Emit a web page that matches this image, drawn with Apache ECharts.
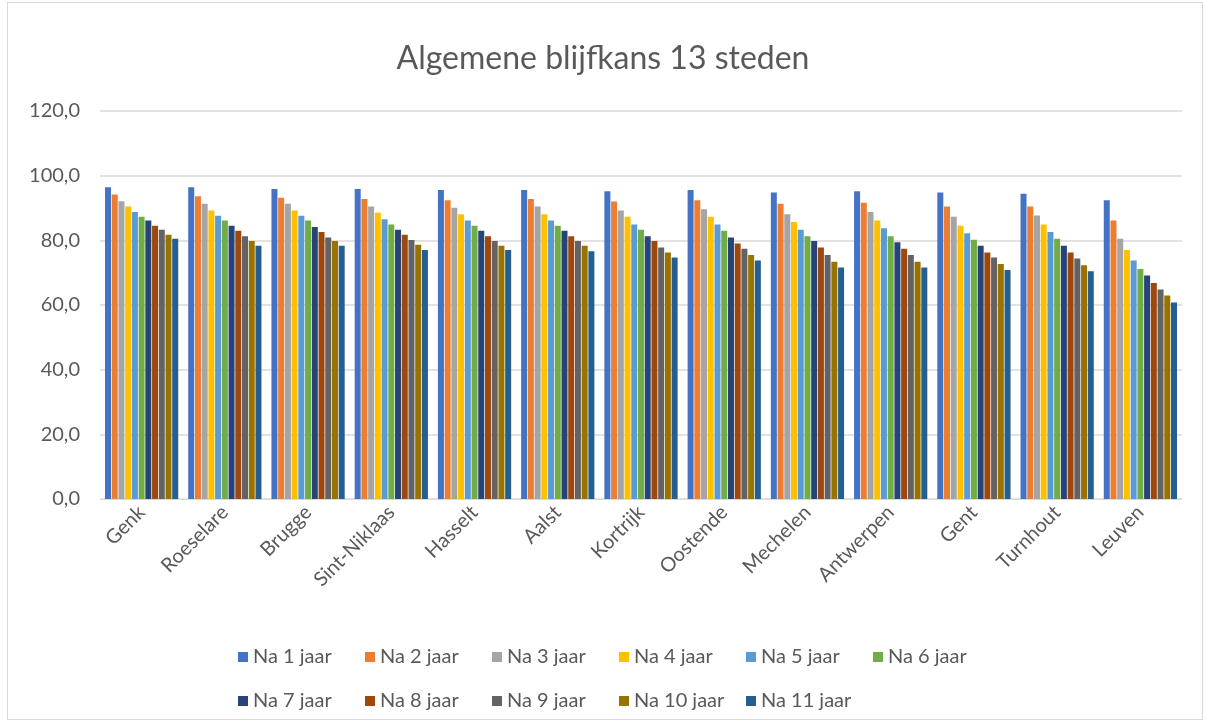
<!DOCTYPE html>
<html><head><meta charset="utf-8">
<script src="https://cdn.jsdelivr.net/npm/echarts@6/dist/echarts.min.js"></script>
<style>
html,body{margin:0;padding:0;background:#fff;}
#frame{position:absolute;left:7px;top:2px;width:1196px;height:718px;border:1px solid #d9d9d9;box-sizing:border-box;}
#c{position:absolute;left:0;top:0;width:1206px;height:725px;}
</style></head>
<body><div id="frame"></div><div id="c"></div>
<script>
const categories = ['Genk','Roeselare','Brugge','Sint-Niklaas','Hasselt','Aalst','Kortrijk','Oostende','Mechelen','Antwerpen','Gent','Turnhout','Leuven'];
const seriesNames = ['Na 1 jaar','Na 2 jaar','Na 3 jaar','Na 4 jaar','Na 5 jaar','Na 6 jaar','Na 7 jaar','Na 8 jaar','Na 9 jaar','Na 10 jaar','Na 11 jaar'];
const colors = ['#4472C4','#ED7D31','#A5A5A5','#FFC000','#5B9BD5','#70AD47','#264478','#9E480E','#636363','#997300','#255E91'];
// values per city, years 1..11
const genk        = [96.4,94.2,92.1,90.5,88.8,87.3,86.1,84.5,83.3,81.7,80.5];
const roeselare   = [96.4,93.6,91.3,89.2,87.6,86.1,84.5,83.0,81.3,79.8,78.3];
const brugge      = [95.9,93.2,91.3,89.2,87.6,86.1,84.1,82.6,80.9,79.8,78.3];
const sintNiklaas = [95.9,92.8,90.5,88.5,86.5,84.9,83.3,81.7,80.1,78.6,77.0];
const hasselt     = [95.6,92.4,90.1,88.1,86.1,84.5,83.0,81.3,79.8,78.3,77.0];
const aalst       = [95.6,92.8,90.5,88.1,86.1,84.5,83.0,81.3,79.8,78.3,76.6];
const kortrijk    = [95.2,92.0,89.2,87.3,84.9,83.3,81.3,79.8,77.8,76.2,74.7];
const oostende    = [95.6,92.4,89.6,87.3,84.9,83.0,80.9,79.0,77.4,75.5,73.8];
const mechelen    = [94.8,91.3,88.1,85.7,83.3,81.3,79.8,77.8,75.5,73.4,71.6];
const antwerpen   = [95.2,91.6,88.8,86.1,83.7,81.3,79.4,77.4,75.5,73.4,71.6];
const gent        = [94.8,90.5,87.3,84.5,82.2,80.2,78.3,76.2,74.7,72.7,70.8];
const turnhout    = [94.4,90.5,87.7,84.9,82.6,80.5,78.3,76.2,74.4,72.3,70.4];
const leuven      = [92.4,86.1,80.5,77.0,73.8,71.1,69.1,66.8,64.8,62.9,60.8];
const cityValues = [genk,roeselare,brugge,sintNiklaas,hasselt,aalst,kortrijk,oostende,mechelen,antwerpen,gent,turnhout,leuven];
const yTicks = {min:0,max:120,interval:20};

const font = 'Lato, "Open Sans", sans-serif';
const chart = echarts.init(document.getElementById('c'));
chart.setOption({
  animation:false,
  color: colors,
  title:{text:'Algemene blijfkans 13 steden',left:'center',top:38,
    textStyle:{fontFamily:font,fontSize:32,fontWeight:'normal',color:'#595959'}},
  legend:{data:seriesNames,left:233,top:636,width:800,itemWidth:10,itemHeight:10,itemGap:12,
    icon:'rect',textStyle:{fontFamily:font,fontSize:20,color:'#595959',width:100,lineHeight:32,overflow:'none'}},
  grid:{left:100,right:24,top:111,bottom:226,containLabel:false},
  xAxis:{type:'category',data:categories,
    axisLine:{lineStyle:{color:'#d9d9d9'}},axisTick:{show:false},
    axisLabel:{rotate:45,interval:0,fontFamily:font,fontSize:20,color:'#595959',margin:10}},
  yAxis:{type:'value',min:yTicks.min,max:yTicks.max,interval:yTicks.interval,
    axisLine:{show:false},axisTick:{show:false},
    splitLine:{lineStyle:{color:'#d9d9d9',width:1.5}},
    axisLabel:{fontFamily:font,fontSize:20,color:'#595959',margin:20,formatter:v=>v.toFixed(1).replace('.',',')}},
  series: seriesNames.map((n,i)=>({name:n,type:'bar',data:cityValues.map(c=>c[i]),
    barGap:'12%',barCategoryGap:'12%'}))
});
</script></body></html>
